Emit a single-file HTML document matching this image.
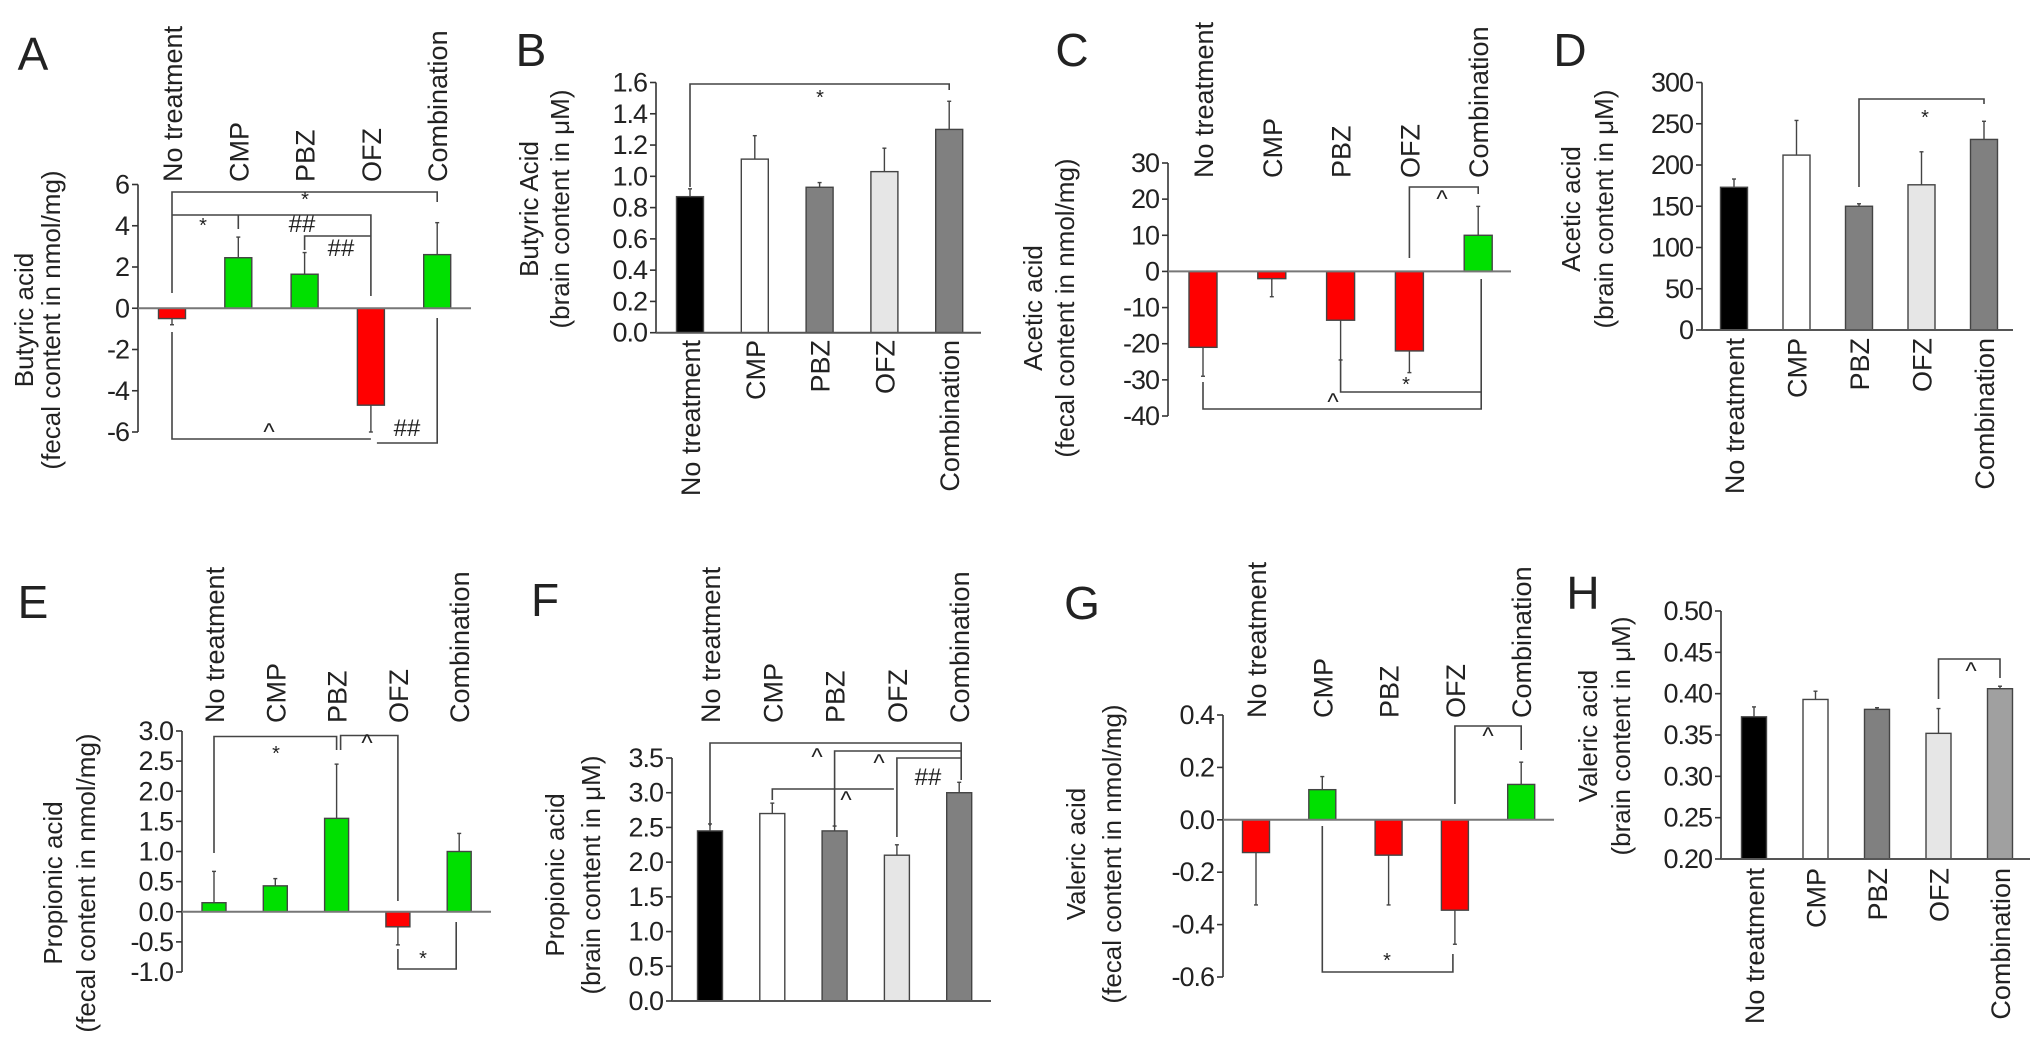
<!DOCTYPE html>
<html><head><meta charset="utf-8"><style>
html,body{margin:0;padding:0;background:#fff}
svg{display:block}
text{font-family:"Liberation Sans",Arial,sans-serif;fill:#222}
</style></head><body>
<svg id="fig" width="2032" height="1042" viewBox="0 0 2032 1042" xmlns="http://www.w3.org/2000/svg"></svg>
<script>
const categories = ["No treatment","CMP","PBZ","OFZ","Combination"];
const valsA = [-0.5, 2.45, 1.65, -4.7, 2.6];
const errA  = [0.3, 1.0, 1.05, 1.3, 1.55];
const valsB = [0.87, 1.11, 0.93, 1.03, 1.30];
const errB  = [0.05, 0.15, 0.03, 0.15, 0.18];
const valsC = [-21, -2, -13.5, -22, 10];
const errC  = [8, 5, 11, 6, 8];
const valsD = [173, 212, 150, 176, 231];
const errD  = [10, 42, 3, 40, 22];
const valsE = [0.15, 0.43, 1.55, -0.25, 1.0];
const errE  = [0.52, 0.12, 0.9, 0.3, 0.3];
const valsF = [2.45, 2.7, 2.45, 2.1, 3.0];
const errF  = [0.1, 0.15, 0.07, 0.15, 0.15];
const valsG = [-0.125, 0.115, -0.135, -0.345, 0.135];
const errG  = [0.2, 0.05, 0.19, 0.13, 0.085];
const valsH = [0.372, 0.393, 0.381, 0.352, 0.406];
const errH  = [0.012, 0.01, 0.002, 0.03, 0.003];
const ticksA = [-6,-4,-2,0,2,4,6];
const ticksB = [0,0.2,0.4,0.6,0.8,1.0,1.2,1.4,1.6];
const ticksC = [-40,-30,-20,-10,0,10,20,30];
const ticksD = [0,50,100,150,200,250,300];
const ticksE = [-1.0,-0.5,0,0.5,1.0,1.5,2.0,2.5,3.0];
const ticksF = [0,0.5,1.0,1.5,2.0,2.5,3.0,3.5];
const ticksG = [-0.6,-0.4,-0.2,0,0.2,0.4];
const ticksH = [0.20,0.25,0.30,0.35,0.40,0.45,0.50];

const NS="http://www.w3.org/2000/svg";
const svg=document.getElementById('fig');
function mk(tag,attrs,parent){const e=document.createElementNS(NS,tag);for(const k in attrs)e.setAttribute(k,attrs[k]);(parent||svg).appendChild(e);return e;}
function txt(s,attrs,parent){const e=mk('text',attrs,parent);e.textContent=s;return e;}

const brainFill=["#000000","#ffffff","#808080","#e6e6e6","#808080"];
const brainFillH=["#000000","#ffffff","#808080","#e6e6e6","#a0a0a0"];

function panel(p){
  const g=mk('g',{});
  
  
  const tmax=p.ticks[p.ticks.length-1], tmin=p.ticks[0];
  const y=v=>p.yMin+(v-tmin)/(tmax-tmin)*(p.yMax-p.yMin);
  const cx=i=>p.c0+i*p.dx;
  const L=txt(p.letter,{x:p.lx,y:p.ly,'font-size':46,'text-anchor':'middle'},g);
  
  
  const ax=mk('line',{x1:p.ax,x2:p.ax,y1:y(tmax),y2:y(tmin),stroke:'#333','stroke-width':1.6},g);
  
  
  p.ticks.forEach(t=>{
    mk('line',{x1:p.ax-6,x2:p.ax,y1:y(t),y2:y(t),stroke:'#333','stroke-width':1.6},g);
    const tl=txt(t.toFixed(p.dec),{x:p.ax-9,y:y(t)+9,'font-size':27,'text-anchor':'end','letter-spacing':'-1'},g);
    
    
  });
  const ty=mk('text',{transform:`translate(${p.tx},${p.tyc}) rotate(-90)`,'font-size':26,'text-anchor':'middle'},g);
  
  
  const t1=mk('tspan',{x:0,y:0},ty);t1.textContent=p.title1;
  const t2=mk('tspan',{x:0,y:p.tgap},ty);t2.textContent=p.title2;
  const base=p.fecal?0:tmin;
  p.vals.forEach((v,i)=>{
    const x=cx(i)-p.bw/2;
    const fill=p.fecal?(v>=0?'#00e000':'#ff0000'):p.fills[i];
    const yt=Math.min(y(v),y(base)), h=Math.abs(y(v)-y(base));
    const r=mk('rect',{x:x,y:yt,width:p.bw,height:h,fill:fill,stroke:'#444','stroke-width':1.4},g);
    
    
    const dir=(v>=0)?1:-1;
    const ye=y(v+dir*p.err[i]);
    const eb=mk('line',{x1:cx(i),x2:cx(i),y1:y(v),y2:ye,stroke:'#444','stroke-width':1.4},g);
    
    
    mk('line',{x1:cx(i)-2,x2:cx(i)+2,y1:ye,y2:ye,stroke:'#444','stroke-width':1.4},g);
  });
  const zl=mk('line',{x1:p.ax,x2:p.end,y1:y(base),y2:y(base),stroke:p.fecal?'#777':'#555','stroke-width':2},g);
  
  
  categories.forEach((c,i)=>{
    const X=cx(i)+10;
    const t=txt(c,{transform:`translate(${X},${p.labY}) rotate(-90)`,'font-size':27,'text-anchor':p.labTop?'start':'end'},g);
    
    
  });
  (p.br||[]).forEach(b=>{
    const pa=mk('path',{d:b.d(cx,y),fill:'none',stroke:'#444','stroke-width':1.6},g);
    
    
  });
  (p.marks||[]).forEach(m=>{
    const t=txt(m[0],{x:m[1],y:m[2],'font-size':m[0]=='*'?20:24,'text-anchor':'middle'},g);
    
    
  });
}

panel({letter:'A',lx:33,ly:70,ax:138,yMin:432,yMax:184.5,ticks:ticksA,dec:0,c0:172,dx:66.3,bw:27,end:471,
  vals:valsA,err:errA,fecal:true,labTop:true,labY:182,tx:33,tyc:320,tgap:27,
  title1:'Butyric acid',title2:'(fecal content in nmol/mg)',
  br:[{d:(cx,y)=>`M${cx(0)},293 V192 H${cx(4)} V202`},
      {d:(cx,y)=>`M${cx(0)},215 H${cx(3)} V296 M${cx(1)},215 V229`},
      {d:(cx,y)=>`M${cx(2)},250 V236 H${cx(3)}`},
      {d:(cx,y)=>`M${cx(0)},332 V439 H${cx(3)}`},
      {d:(cx,y)=>`M${cx(3)+6},443 H${cx(4)} V318`}],
  marks:[['*',305,206],['*',203,232],['##',302,232],['##',341,256],['^',269,440],['##',407,436]]});

panel({letter:'B',lx:531,ly:66,ax:656,yMin:332.7,yMax:82.5,ticks:ticksB,dec:1,c0:690,dx:64.8,bw:27,end:981,
  vals:valsB,err:errB,fecal:false,fills:brainFill,labTop:false,labY:340,tx:538,tyc:209,tgap:31,
  title1:'Butyric Acid',title2:'(brain content in μM)',
  br:[{d:(cx,y)=>`M${cx(0)},187 V84 H${cx(4)} V90`}],
  marks:[['*',820,104]]});

panel({letter:'C',lx:1072,ly:66,ax:1168,yMin:416,yMax:163,ticks:ticksC,dec:0,c0:1203,dx:68.8,bw:28,end:1511,
  vals:valsC,err:errC,fecal:true,labTop:true,labY:178,tx:1042,tyc:308,tgap:32,
  title1:'Acetic acid',title2:'(fecal content in nmol/mg)',
  br:[{d:(cx,y)=>`M${cx(3)},258 V187 H${cx(4)} V194`},
      {d:(cx,y)=>`M${cx(2)},359 V392 H${cx(4)+3}`},
      {d:(cx,y)=>`M${cx(0)},382 V409 H${cx(4)+3} V279`}],
  marks:[['^',1442,207],['*',1406,391],['^',1333,410]]});

panel({letter:'D',lx:1570,ly:66,ax:1702,yMin:330,yMax:82.5,ticks:ticksD,dec:0,c0:1734,dx:62.5,bw:27,end:2013,
  vals:valsD,err:errD,fecal:false,fills:brainFill,labTop:false,labY:338,tx:1580,tyc:209,tgap:33,
  title1:'Acetic acid',title2:'(brain content in μM)',
  br:[{d:(cx,y)=>`M${cx(2)},187 V99 H${cx(4)} V104`}],
  marks:[['*',1925,124]]});

panel({letter:'E',lx:33,ly:618,ax:182,yMin:972,yMax:731,ticks:ticksE,dec:1,c0:214,dx:61.3,bw:24,end:491,
  vals:valsE,err:errE,fecal:true,labTop:true,labY:723,tx:62,tyc:883,tgap:33,
  title1:'Propionic acid',title2:'(fecal content in nmol/mg)',
  br:[{d:(cx,y)=>`M${cx(0)},853 V736.5 H${cx(2)} V750`},
      {d:(cx,y)=>`M${cx(2)+4},750 V735.5 H${cx(3)} V901`},
      {d:(cx,y)=>`M${cx(3)},949 V969 H${cx(4)-3} V922`}],
  marks:[['*',276,760],['^',367,751],['*',423,965]]});

panel({letter:'F',lx:545,ly:616,ax:672,yMin:1001,yMax:758,ticks:ticksF,dec:1,c0:710,dx:62.3,bw:25,end:991,
  vals:valsF,err:errF,fecal:false,fills:brainFill,labTop:true,labY:723,tx:564,tyc:875,tgap:36,
  title1:'Propionic acid',title2:'(brain content in μM)',
  br:[{d:(cx,y)=>`M${cx(0)},826 V743 H${cx(4)+2} V780`},
      {d:(cx,y)=>`M${cx(2)},827 V751 H${cx(4)+2}`},
      {d:(cx,y)=>`M${cx(3)},837 V758 H${cx(4)+2}`},
      {d:(cx,y)=>`M${cx(1)},800 V789 H${cx(3)-3}`}],
  marks:[['^',817,765],['^',879,771],['##',928,785],['^',846,808]]});

panel({letter:'G',lx:1082,ly:619,ax:1223,yMin:977,yMax:715,ticks:ticksG,dec:1,c0:1256,dx:66.3,bw:27,end:1554,
  vals:valsG,err:errG,fecal:true,labTop:true,labY:718,tx:1085,tyc:854,tgap:36,
  title1:'Valeric acid',title2:'(fecal content in nmol/mg)',
  br:[{d:(cx,y)=>`M${cx(3)},804 V726 H${cx(4)} V750`},
      {d:(cx,y)=>`M${cx(1)},826 V972 H${cx(3)-2} V954`}],
  marks:[['^',1488,744],['*',1387,967]]});

panel({letter:'H',lx:1583,ly:609,ax:1721,yMin:859,yMax:611,ticks:ticksH,dec:2,c0:1754,dx:61.5,bw:25,end:2030,
  vals:valsH,err:errH,fecal:false,fills:brainFillH,labTop:false,labY:868,tx:1597,tyc:736,tgap:33,
  title1:'Valeric acid',title2:'(brain content in μM)',
  br:[{d:(cx,y)=>`M${cx(3)},699 V659 H${cx(4)} V678`}],
  marks:[['^',1971,679]]});
</script>
</body></html>
